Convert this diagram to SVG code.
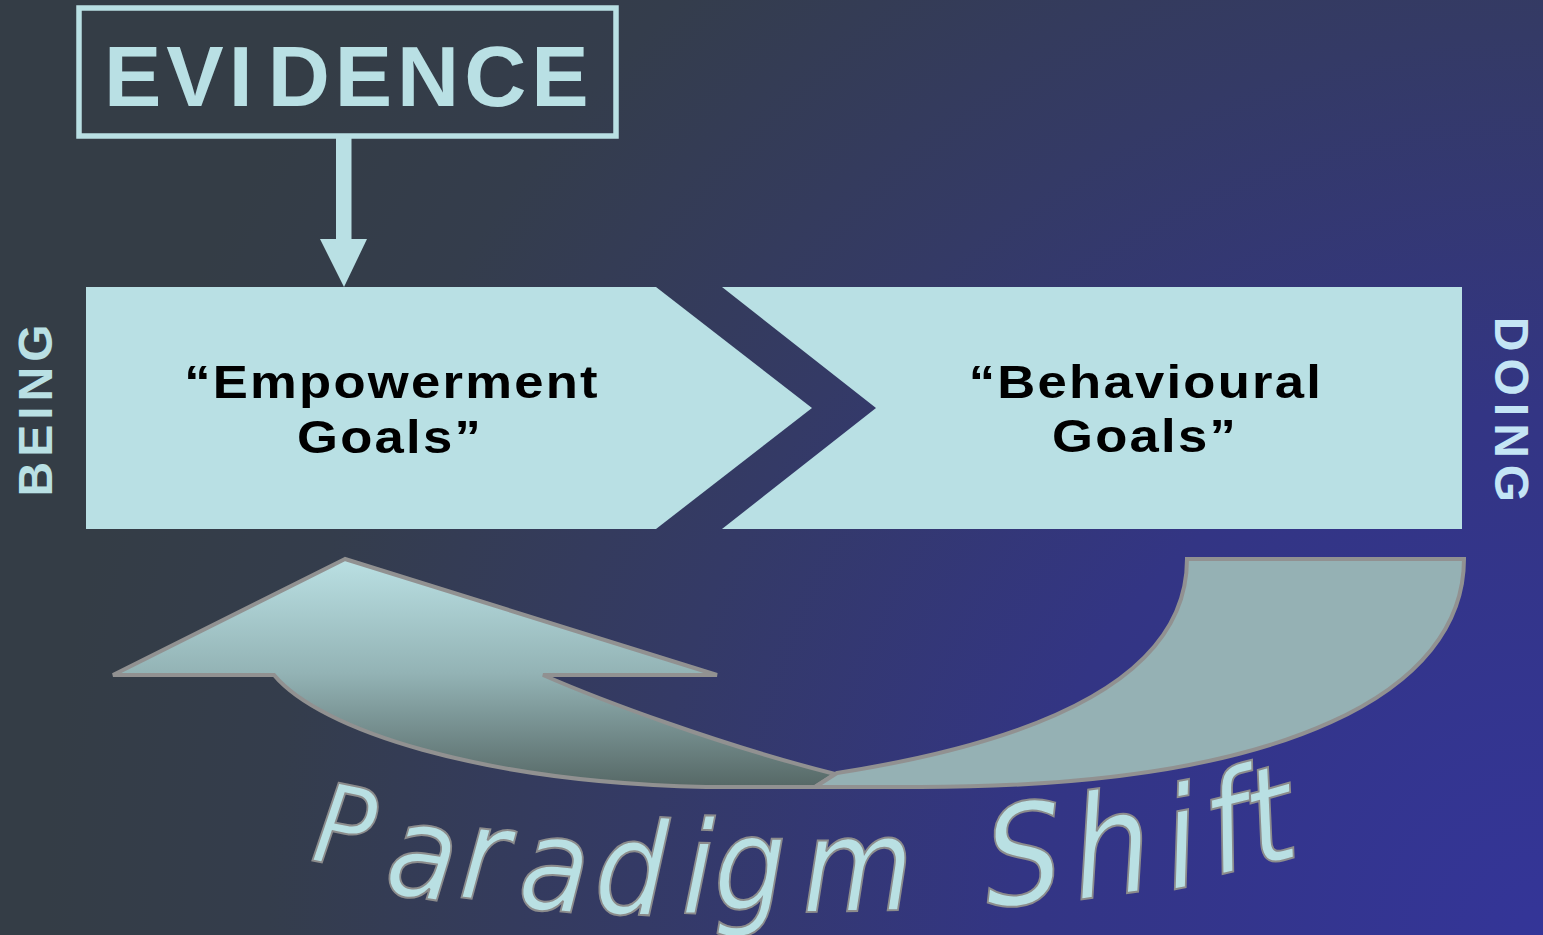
<svg xmlns="http://www.w3.org/2000/svg" width="1543" height="935" viewBox="0 0 1543 935">
  <defs>
    <radialGradient id="bg" gradientUnits="userSpaceOnUse" cx="1543" cy="935" r="1500">
      <stop offset="0" stop-color="#343598"/>
      <stop offset="0.35" stop-color="#333584"/>
      <stop offset="0.6" stop-color="#343a66"/>
      <stop offset="0.85" stop-color="#343d4c"/>
      <stop offset="1" stop-color="#343d46"/>
    </radialGradient>
    <linearGradient id="arrowGrad" gradientUnits="userSpaceOnUse" x1="0" y1="559" x2="0" y2="787">
      <stop offset="0" stop-color="#bae0e3"/>
      <stop offset="0.5" stop-color="#93b3b5"/>
      <stop offset="1" stop-color="#566866"/>
    </linearGradient>
    <style>
      .pale { fill: #b9e0e4; }
      .label { font-family: "Liberation Sans", Arial, sans-serif; font-weight: bold; font-size: 47px; fill: #000; text-anchor: middle; letter-spacing: 2px; }
      .side { font-family: "Liberation Sans", Arial, sans-serif; font-weight: bold; font-size: 48px; text-anchor: middle; }
      .shift { stroke: #919191; stroke-width: 4; stroke-linejoin: miter; }
      .ps { font-family: "DejaVu Sans", Verdana, sans-serif; font-style: oblique; fill: #b9e0e3; stroke: #8c8c8c; stroke-width: 2; }
    </style>
  </defs>

  <rect x="0" y="0" width="1543" height="935" fill="url(#bg)"/>

  <g id="evidence">
    <rect x="79" y="8" width="537" height="128" fill="none" stroke="#b9e0e4" stroke-width="5.5"/>
    <text x="104" y="106" font-family="'Liberation Sans', Arial, sans-serif" font-weight="bold" font-size="86" fill="#b9e0e4" letter-spacing="5">EVI<tspan dx="10">DENCE</tspan></text>
  </g>

  <g id="connectors">
    <rect x="336" y="137" width="15.5" height="103" class="pale"/>
    <polygon points="320,239 367,239 344,287" class="pale"/>
  </g>

  <g id="empowerment">
    <polygon points="86,287 656,287 812,408 656,529 86,529" class="pale"/>
    <text class="label" transform="translate(392,398) scale(1.12,1)">“Empowerment</text>
    <text class="label" transform="translate(390,453) scale(1.12,1)">Goals”</text>
  </g>

  <g id="behavioural">
    <polygon points="722,287 1462,287 1462,529 722,529 876,408" class="pale"/>
    <text class="label" transform="translate(1146,398) scale(1.12,1)">“Behavioural</text>
    <text class="label" transform="translate(1145,452) scale(1.12,1)">Goals”</text>
  </g>

  <g id="being">
    <text class="side" fill="#b9e0e4" letter-spacing="5" transform="translate(52,408) rotate(-90)">BEING</text>
  </g>

  <g id="doing">
    <text class="side" fill="#c4e5f5" letter-spacing="7" transform="translate(1495,413) rotate(90)">DOING</text>
  </g>

  <g id="shift-arrow">
    <path class="shift" fill="url(#arrowGrad)" d="M345,559 L113,675 L274,675 C320,730 480,782 706,787 L815,787 L835,774 C720,745 600,700 543,675 L717,675 Z"/>
    <path class="shift" fill="#95b1b4" d="M1187,559 L1464,559 C1464,690 1290,787 920,787 L815,787 L837,773 C1080,735 1187,660 1187,559 Z"/>
  </g>

  <g id="paradigm-shift">
    <text class="ps" font-size="130" transform="scale(0.88,1)"><tspan x="352" y="860" rotate="10" font-size="112">P</tspan><tspan x="435" y="892" rotate="8">a</tspan><tspan x="520" y="897" rotate="6">r</tspan><tspan x="587" y="907" rotate="5">a</tspan><tspan x="674" y="912" rotate="3">d</tspan><tspan x="774" y="913" rotate="2">i</tspan><tspan x="811" y="910" rotate="0">g</tspan><tspan x="912" y="912" rotate="-1">m</tspan><tspan x="1122" y="907" rotate="-4" font-size="140">S</tspan><tspan x="1224" y="900" rotate="-7" font-size="142">h</tspan><tspan x="1330" y="890" rotate="-9" font-size="140">i</tspan><tspan x="1380" y="876" rotate="-12" font-size="138">f</tspan><tspan x="1428" y="868" rotate="-14" font-size="135">t</tspan></text>
  </g>
</svg>
